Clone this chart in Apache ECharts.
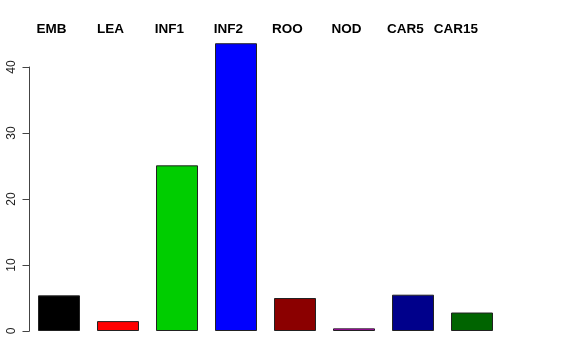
<!DOCTYPE html>
<html><head><meta charset="utf-8">
<script src="https://cdn.jsdelivr.net/npm/echarts@6/dist/echarts.min.js"></script>
<style>html,body{margin:0;padding:0;background:#fff}#c{width:576px;height:360px}</style>
</head><body><div id="c"></div>
<script>
const categories = ['EMB','LEA','INF1','INF2','ROO','NOD','CAR5','CAR15'];
const values = [5.4, 1.5, 25.1, 43.6, 5.0, 0.4, 5.5, 2.8];
const colors = ['#000000','#FF0000','#00CD00','#0000FF','#8B0000','#CD00CD','#00008B','#006400'];
const yTicks = [0, 10, 20, 30, 40];

const chart = echarts.init(document.getElementById('c'));
chart.setOption({
  animation: false,
  backgroundColor: '#fff',
  grid: { left: 29.5, right: 74.5, top: 67, bottom: 29 },
  xAxis: {
    type: 'category', data: categories, position: 'top',
    axisLine: { show: false }, axisTick: { show: false },
    axisLabel: {
      interval: 0, hideOverlap: false,
      margin: 31, fontFamily: 'Liberation Sans', fontWeight: 'bold', fontSize: 13.5, color: '#000',
      padding: [0, 15, 0, 0],
      formatter: (v, i) => i === categories.length - 1 ? '{w|' + v + '}' : v,
      rich: { w: { fontFamily: 'Liberation Sans', fontWeight: 'bold', fontSize: 13.5, color: '#000', padding: [0, 17, 0, 0] } }
    }
  },
  yAxis: {
    type: 'value', min: yTicks[0], max: yTicks[yTicks.length - 1], interval: 10,
    axisLine: { show: true, lineStyle: { color: '#444', width: 1 } },
    axisTick: { show: true, length: 7, lineStyle: { color: '#444' } },
    splitLine: { show: false },
    axisLabel: { rotate: 90, margin: 12, fontFamily: 'Liberation Sans', fontSize: 12, color: '#222' }
  },
  series: [{
    type: 'bar', barWidth: 42, clip: false,
    data: values.map((v, i) => ({ value: v, itemStyle: { color: colors[i] } })),
    itemStyle: { borderColor: '#222', borderWidth: 1 }
  }]
});
</script></body></html>
